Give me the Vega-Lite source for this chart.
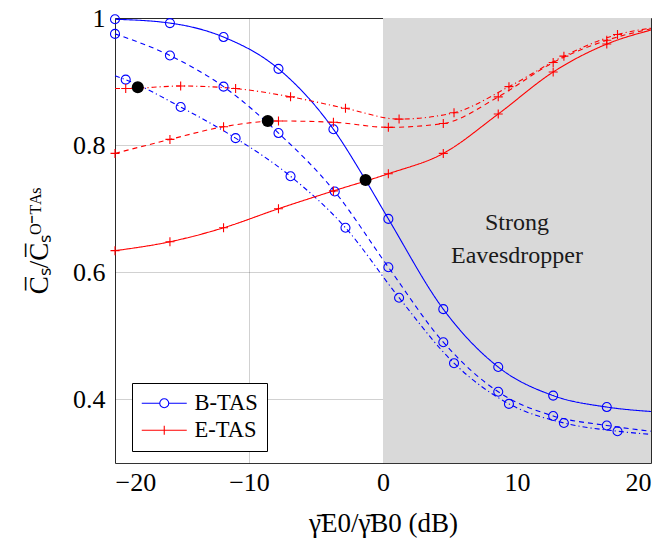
{
  "$schema": "https://vega.github.io/schema/vega-lite/v6.json",
  "width": 536,
  "height": 445,
  "autosize": {"type": "none"},
  "padding": {"left": 115, "top": 18, "right": 16, "bottom": 76},
  "background": "white",
  "config": {
    "font": "Liberation Serif",
    "view": {"stroke": "#333333", "strokeWidth": 1},
    "axis": {
      "labelFont": "Liberation Serif",
      "titleFont": "Liberation Serif",
      "labelColor": "black",
      "titleColor": "black",
      "labelFontSize": 26,
      "titleFontSize": 27,
      "titleFontWeight": "normal",
      "ticks": false,
      "domain": false,
      "grid": true,
      "gridColor": "black",
      "gridOpacity": 0.18,
      "zindex": 1
    },
    "legend": {
      "labelFont": "Liberation Serif",
      "labelFontSize": 22.5,
      "labelColor": "black"
    }
  },
  "datasets": {
    "curves": [
      {"s":"bs","g":"B-TAS","d":"solid","x":-20,"y":0.998,"m":1},
      {"s":"bs","g":"B-TAS","d":"solid","x":-15.9,"y":0.992,"m":1},
      {"s":"bs","g":"B-TAS","d":"solid","x":-11.9,"y":0.970,"m":1},
      {"s":"bs","g":"B-TAS","d":"solid","x":-7.8,"y":0.920,"m":1},
      {"s":"bs","g":"B-TAS","d":"solid","x":-3.7,"y":0.825,"m":1},
      {"s":"bs","g":"B-TAS","d":"solid","x":-1.3,"y":0.745,"m":0},
      {"s":"bs","g":"B-TAS","d":"solid","x":0.4,"y":0.684,"m":1},
      {"s":"bs","g":"B-TAS","d":"solid","x":4.5,"y":0.542,"m":1},
      {"s":"bs","g":"B-TAS","d":"solid","x":8.6,"y":0.451,"m":1},
      {"s":"bs","g":"B-TAS","d":"solid","x":12.7,"y":0.406,"m":1},
      {"s":"bs","g":"B-TAS","d":"solid","x":16.7,"y":0.388,"m":1},
      {"s":"bs","g":"B-TAS","d":"solid","x":20,"y":0.381,"m":0},

      {"s":"bd","g":"B-TAS","d":"dashed","x":-20,"y":0.975,"m":1},
      {"s":"bd","g":"B-TAS","d":"dashed","x":-15.9,"y":0.941,"m":1},
      {"s":"bd","g":"B-TAS","d":"dashed","x":-11.9,"y":0.892,"m":1},
      {"s":"bd","g":"B-TAS","d":"dashed","x":-7.8,"y":0.819,"m":1},
      {"s":"bd","g":"B-TAS","d":"dashed","x":-3.6,"y":0.727,"m":1},
      {"s":"bd","g":"B-TAS","d":"dashed","x":0.4,"y":0.608,"m":1},
      {"s":"bd","g":"B-TAS","d":"dashed","x":4.5,"y":0.490,"m":1},
      {"s":"bd","g":"B-TAS","d":"dashed","x":8.6,"y":0.412,"m":1},
      {"s":"bd","g":"B-TAS","d":"dashed","x":12.7,"y":0.374,"m":1},
      {"s":"bd","g":"B-TAS","d":"dashed","x":16.7,"y":0.359,"m":1},
      {"s":"bd","g":"B-TAS","d":"dashed","x":20,"y":0.350,"m":0},

      {"s":"bdd","g":"B-TAS","d":"dashdot","x":-20,"y":0.909,"m":0},
      {"s":"bdd","g":"B-TAS","d":"dashdot","x":-19.2,"y":0.903,"m":1},
      {"s":"bdd","g":"B-TAS","d":"dashdot","x":-15.1,"y":0.860,"m":1},
      {"s":"bdd","g":"B-TAS","d":"dashdot","x":-11.0,"y":0.811,"m":1},
      {"s":"bdd","g":"B-TAS","d":"dashdot","x":-6.9,"y":0.751,"m":1},
      {"s":"bdd","g":"B-TAS","d":"dashdot","x":-2.8,"y":0.670,"m":1},
      {"s":"bdd","g":"B-TAS","d":"dashdot","x":1.2,"y":0.560,"m":1},
      {"s":"bdd","g":"B-TAS","d":"dashdot","x":5.3,"y":0.457,"m":1},
      {"s":"bdd","g":"B-TAS","d":"dashdot","x":9.4,"y":0.393,"m":1},
      {"s":"bdd","g":"B-TAS","d":"dashdot","x":13.5,"y":0.363,"m":1},
      {"s":"bdd","g":"B-TAS","d":"dashdot","x":17.5,"y":0.350,"m":1},
      {"s":"bdd","g":"B-TAS","d":"dashdot","x":20,"y":0.345,"m":0},

      {"s":"rs","g":"E-TAS","d":"solid","x":-20,"y":0.634,"m":1},
      {"s":"rs","g":"E-TAS","d":"solid","x":-15.9,"y":0.648,"m":1},
      {"s":"rs","g":"E-TAS","d":"solid","x":-11.9,"y":0.670,"m":1},
      {"s":"rs","g":"E-TAS","d":"solid","x":-7.8,"y":0.700,"m":1},
      {"s":"rs","g":"E-TAS","d":"solid","x":-3.7,"y":0.728,"m":1},
      {"s":"rs","g":"E-TAS","d":"solid","x":0.4,"y":0.755,"m":1},
      {"s":"rs","g":"E-TAS","d":"solid","x":4.5,"y":0.787,"m":1},
      {"s":"rs","g":"E-TAS","d":"solid","x":8.6,"y":0.849,"m":1},
      {"s":"rs","g":"E-TAS","d":"solid","x":12.7,"y":0.915,"m":1},
      {"s":"rs","g":"E-TAS","d":"solid","x":16.7,"y":0.959,"m":1},
      {"s":"rs","g":"E-TAS","d":"solid","x":20,"y":0.981,"m":0},

      {"s":"rd","g":"E-TAS","d":"dashed","x":-20,"y":0.787,"m":1},
      {"s":"rd","g":"E-TAS","d":"dashed","x":-15.9,"y":0.809,"m":1},
      {"s":"rd","g":"E-TAS","d":"dashed","x":-11.9,"y":0.829,"m":1},
      {"s":"rd","g":"E-TAS","d":"dashed","x":-7.8,"y":0.838,"m":1},
      {"s":"rd","g":"E-TAS","d":"dashed","x":-3.7,"y":0.836,"m":1},
      {"s":"rd","g":"E-TAS","d":"dashed","x":0.4,"y":0.828,"m":1},
      {"s":"rd","g":"E-TAS","d":"dashed","x":4.5,"y":0.834,"m":1},
      {"s":"rd","g":"E-TAS","d":"dashed","x":8.6,"y":0.876,"m":1},
      {"s":"rd","g":"E-TAS","d":"dashed","x":12.7,"y":0.930,"m":1},
      {"s":"rd","g":"E-TAS","d":"dashed","x":16.7,"y":0.965,"m":1},
      {"s":"rd","g":"E-TAS","d":"dashed","x":20,"y":0.983,"m":0},

      {"s":"rdd","g":"E-TAS","d":"dashdot","x":-20,"y":0.889,"m":0},
      {"s":"rdd","g":"E-TAS","d":"dashdot","x":-19.2,"y":0.889,"m":1},
      {"s":"rdd","g":"E-TAS","d":"dashdot","x":-15.1,"y":0.893,"m":1},
      {"s":"rdd","g":"E-TAS","d":"dashdot","x":-11.0,"y":0.889,"m":1},
      {"s":"rdd","g":"E-TAS","d":"dashdot","x":-6.9,"y":0.876,"m":1},
      {"s":"rdd","g":"E-TAS","d":"dashdot","x":-2.8,"y":0.858,"m":1},
      {"s":"rdd","g":"E-TAS","d":"dashdot","x":1.2,"y":0.841,"m":1},
      {"s":"rdd","g":"E-TAS","d":"dashdot","x":5.3,"y":0.851,"m":1},
      {"s":"rdd","g":"E-TAS","d":"dashdot","x":9.4,"y":0.892,"m":1},
      {"s":"rdd","g":"E-TAS","d":"dashdot","x":13.5,"y":0.940,"m":1},
      {"s":"rdd","g":"E-TAS","d":"dashdot","x":17.5,"y":0.974,"m":1},
      {"s":"rdd","g":"E-TAS","d":"dashdot","x":20,"y":0.984,"m":0}
    ],
    "dots": [
      {"x":-18.3,"y":0.891},
      {"x":-8.6,"y":0.838},
      {"x":-1.3,"y":0.745}
    ],
    "region": [{"x":0,"x2":20}],
    "notes": [
      {"x":10,"y":0.666,"t":"Strong"},
      {"x":10,"y":0.615,"t":"Eavesdropper"}
    ]
  },
  "encoding": {
    "x": {
      "field": "x", "type": "quantitative",
      "scale": {"domain": [-20, 20], "nice": false, "zero": false},
      "axis": {"values": [-20, -10, 0, 10, 20], "labelPadding": 6, "title": "γ̄E0/γ̄B0 (dB)", "titleY": 47, "titleBaseline": "top"}
    },
    "y": {
      "field": "y", "type": "quantitative",
      "scale": {"domain": [0.3, 1], "nice": false, "zero": false},
      "axis": {"values": [0.4, 0.6, 0.8, 1], "format": "~g", "labelPadding": 10, "title": "C̅ₛ/C̅ₛᴼ⁻ᵀᴬˢ", "titleX": -62, "titleBaseline": "bottom"}
    }
  },
  "layer": [
    {
      "data": {"name": "region"},
      "mark": {"type": "rect", "color": "#d9d9d9"},
      "encoding": {"x": {"field": "x", "type": "quantitative"}, "x2": {"field": "x2"}, "y": null}
    },
    {
      "data": {"name": "notes"},
      "mark": {"type": "text", "font": "Liberation Serif", "fontSize": 24, "color": "#1a1a1a", "baseline": "alphabetic", "align": "center"},
      "encoding": {"text": {"field": "t"}}
    },
    {
      "data": {"name": "curves"},
      "mark": {"type": "line", "interpolate": "monotone", "strokeWidth": 1.1},
      "encoding": {
        "color": {"field": "g", "type": "nominal", "scale": {"domain": ["B-TAS", "E-TAS"], "range": ["#0000ff", "#ff0000"]}},
        "strokeDash": {"field": "d", "type": "nominal", "scale": {"domain": ["solid", "dashed", "dashdot"], "range": [[1, 0], [5, 4], [5, 3, 1.2, 3]]}, "legend": null},
        "detail": {"field": "s"}
      }
    },
    {
      "data": {"name": "curves"},
      "transform": [{"filter": "datum.m == 1 && datum.g == 'B-TAS'"}],
      "mark": {"type": "point", "filled": false, "size": 81, "strokeWidth": 1.1, "opacity": 1, "shape": "circle", "color": "#0000ff"},
      "encoding": {}
    },
    {
      "data": {"name": "curves"},
      "transform": [{"filter": "datum.m == 1 && datum.g == 'E-TAS'"}],
      "mark": {"type": "point", "filled": false, "size": 81, "strokeWidth": 1.1, "opacity": 1, "shape": "M-1,0H1M0,-1V1", "color": "#ff0000"},
      "encoding": {}
    },
    {
      "data": {"name": "curves"},
      "transform": [{"filter": "datum.m > 5"}],
      "mark": {"type": "point", "filled": false, "size": 81, "strokeWidth": 1.1, "opacity": 1},
      "encoding": {
        "color": {"field": "g", "type": "nominal", "legend": {
          "title": null, "orient": "none", "legendX": 17, "legendY": 365,
          "strokeColor": "black", "fillColor": "white", "padding": 9, "cornerRadius": 0,
          "symbolOffset": 12, "labelOffset": 19, "rowPadding": 4, "symbolSize": 81, "symbolStrokeWidth": 1.1
        }},
        "shape": {"field": "g", "type": "nominal", "scale": {"domain": ["B-TAS", "E-TAS"], "range": ["M-5,0H-1M1,0H5M1,0A1,1,0,1,0,-1,0A1,1,0,1,0,1,0", "M-5,0H5M0,-1V1"]}, "legend": {
          "title": null, "orient": "none", "legendX": 17, "legendY": 365,
          "strokeColor": "black", "fillColor": "white", "padding": 9, "cornerRadius": 0,
          "symbolOffset": 12, "labelOffset": 19, "rowPadding": 4, "symbolSize": 81, "symbolStrokeWidth": 1.1
        }}
      }
    },
    {
      "data": {"name": "dots"},
      "mark": {"type": "point", "filled": true, "color": "black", "size": 144, "opacity": 1, "shape": "circle"},
      "encoding": {}
    }
  ]
}
